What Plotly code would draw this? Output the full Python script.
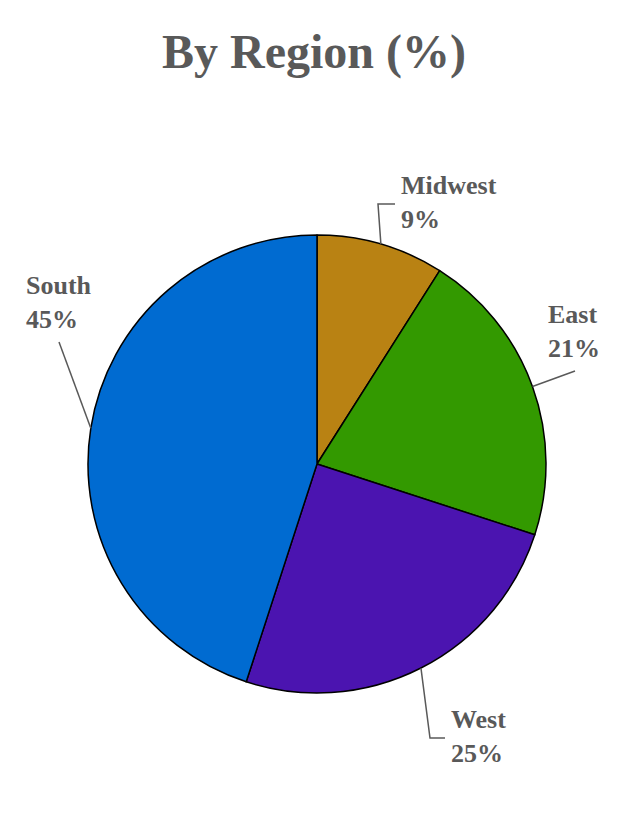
import math
import plotly.graph_objects as go

# ---- data ----
regions = ["Midwest", "East", "West", "South"]
shares = [9, 21, 25, 45]
colors = ["#B98213", "#339900", "#4B14B0", "#006BD1"]
title_text = "By Region (%)"

# ---- layout parameters (pixels, as seen on the page) ----
W, H = 630, 840
OFF = 8  # default page body margin
cx, cy, R = 317, 464, 229
GRAY = "#595959"
FONT = "Liberation Serif"

label_pos = {
    "Midwest": (399, 202),
    "East": (546, 332),
    "West": (449, 736),
    "South": (24, 302),
}
leader_knots = {
    "Midwest": [(378, 204), (395, 204)],
    "East": [(575, 371)],
    "West": [(430, 738), (445, 738)],
    "South": [(59, 342)],
}


def px(x):
    return (x - OFF) / W


def py(y):
    return 1 - (y - OFF) / H


fig = go.Figure(
    go.Pie(
        labels=regions,
        values=shares,
        sort=False,
        direction="clockwise",
        rotation=0,
        marker=dict(colors=colors, line=dict(color="#000000", width=1.5)),
        textinfo="none",
        hoverinfo="label+percent",
        showlegend=False,
        domain=dict(x=[px(cx - R), px(cx + R)], y=[py(cy + R), py(cy - R)]),
    )
)

total = sum(shares)
cum = 0
shapes = []
annotations = []
for name, v in zip(regions, shares):
    mid = (cum + v / 2) / total * 2 * math.pi
    cum += v
    ex = cx + R * math.sin(mid)
    ey = cy - R * math.cos(mid)
    pts = [(ex, ey)] + leader_knots[name]
    path = "M " + " L ".join(f"{px(x):.5f},{py(y):.5f}" for x, y in pts)
    shapes.append(dict(type="path", xref="paper", yref="paper", path=path,
                       line=dict(color=GRAY, width=1.5)))
    lx, ly = label_pos[name]
    annotations.append(dict(
        x=px(lx), y=py(ly), xref="paper", yref="paper",
        xanchor="left", yanchor="middle", align="left", showarrow=False,
        text=f"<b>{name}<br>{round(v / total * 100)}%</b>",
        font=dict(family=FONT, size=26, color=GRAY),
    ))

annotations.append(dict(
    x=px(314), y=py(52), xref="paper", yref="paper",
    xanchor="center", yanchor="middle", showarrow=False,
    text=f"<b>{title_text}</b>",
    font=dict(family=FONT, size=48, color=GRAY),
))

fig.update_layout(
    width=W, height=H,
    margin=dict(l=0, r=0, t=0, b=0),
    paper_bgcolor="white", plot_bgcolor="white",
    shapes=shapes, annotations=annotations,
)

fig.write_html("out.html")
